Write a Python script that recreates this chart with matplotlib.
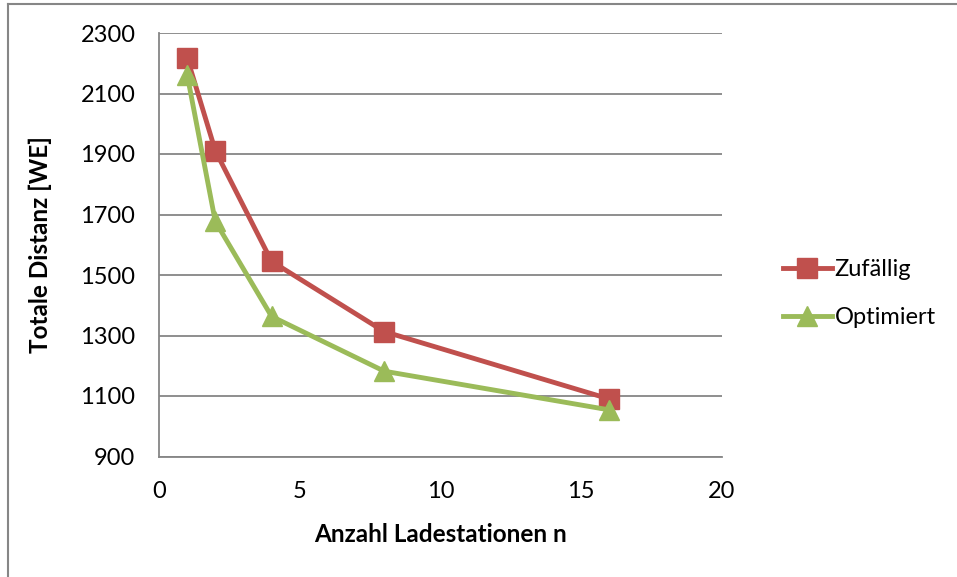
import matplotlib.pyplot as plt
from matplotlib.lines import Line2D

# data
n_stations = [1, 2, 4, 8, 16]
dist_random = [2218, 1911, 1545, 1313, 1090]
dist_optimized = [2162, 1677, 1363, 1182, 1054]

x_ticks = [0, 5, 10, 15, 20]
y_ticks = [900, 1100, 1300, 1500, 1700, 1900, 2100, 2300]

plt.rcParams['font.family'] = ['Lato', 'DejaVu Sans']

W, H = 957, 577
fig = plt.figure(figsize=(W / 100, H / 100), dpi=100)
ax = fig.add_axes([159 / W, 1 - 456.5 / H, (722 - 159) / W, (456.5 - 33) / H])

red = '#C0504D'
green = '#9BBB59'
grid_col = '#868686'

ax.plot(n_stations, dist_random, color=red, lw=3.5, marker='s', ms=14,
        label='Zufällig', zorder=3)
ax.plot(n_stations, dist_optimized, color=green, lw=3.5, marker='^', ms=15,
        label='Optimiert', zorder=3)

ax.set_xlim(0, 20)
ax.set_ylim(900, 2300)
ax.set_xticks(x_ticks)
ax.set_yticks(y_ticks)
ax.tick_params(length=0, labelsize=17)
ax.tick_params(axis='x', pad=18)
ax.tick_params(axis='y', pad=17)
ax.yaxis.grid(True, color=grid_col, lw=1.3)
ax.set_axisbelow(True)
for s in ['top', 'right']:
    ax.spines[s].set_visible(False)
for s in ['left', 'bottom']:
    ax.spines[s].set_color(grid_col)
    ax.spines[s].set_linewidth(1.3)

ax.set_xlabel('Anzahl Ladestationen n', fontsize=17.5, fontweight='bold', labelpad=15)
ax.set_ylabel('Totale Distanz [WE]', fontsize=17.5, fontweight='bold', labelpad=20)

leg = ax.legend(loc='center left', bbox_to_anchor=(1.07, 0.385), frameon=False,
                fontsize=17, handlelength=2.1, handletextpad=0.1, labelspacing=1.15)

# outer chart frame (only top and left edges visible)
fig.add_artist(Line2D([8 / W, 1], [1 - 4 / H, 1 - 4 / H], color=grid_col, lw=1.5))
fig.add_artist(Line2D([8 / W, 8 / W], [0, 1 - 4 / H], color=grid_col, lw=1.5))

fig.savefig('out.png', dpi=100)
